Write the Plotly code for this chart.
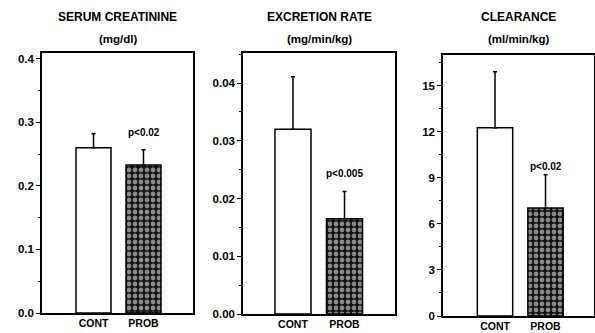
import plotly.graph_objects as go

groups = ["CONT", "PROB"]
creat_vals = [0.26, 0.233]
creat_err = [0.022, 0.024]
excr_vals = [0.032, 0.0165]
excr_err = [0.0091, 0.0047]
clear_vals = [12.26, 7.04]
clear_err = [3.65, 2.16]
p_labels = ["p<0.02", "p<0.005", "p<0.02"]
titles = ["SERUM CREATININE", "EXCRETION RATE", "CLEARANCE"]
units = ["(mg/dl)", "(mg/min/kg)", "(ml/min/kg)"]
creat_ticks = [0.0, 0.1, 0.2, 0.3, 0.4]
excr_ticks = [0.00, 0.01, 0.02, 0.03, 0.04]
clear_ticks = [0, 3, 6, 9, 12, 15]

W, H = 595, 333
FONT = "Liberation Sans"

panels = [
    dict(vals=creat_vals, err=creat_err, ticks=creat_ticks, fmt=".1f", yr=[0, 0.409],
         px=(42, 193), py=(313, 53), xr=[-1.03, 1.99], py_lab=0.2835, dtick_minor=0.05),
    dict(vals=excr_vals, err=excr_err, ticks=excr_ticks, fmt=".2f", yr=[0, 0.0452],
         px=(243, 395), py=(314, 53), xr=[-0.97, 1.98], py_lab=0.0244, dtick_minor=0.005),
    dict(vals=clear_vals, err=clear_err, ticks=clear_ticks, fmt="d", yr=[0, 17.0],
         px=(443, 594), py=(316, 55), xr=[-1.03, 1.96], py_lab=9.72, dtick_minor=1.5),
]

fig = go.Figure()
annotations = []
for i, p in enumerate(panels):
    n = "" if i == 0 else str(i + 1)
    xa, ya = "x" + n, "y" + n
    fig.add_trace(go.Bar(
        x=[0, 1], y=p["vals"], width=0.7,
        marker=dict(color=["white", "#111111"],
                    line=dict(color="black", width=1.5),
                    pattern=dict(shape=["", "."], fgcolor="white",
                                 size=6, solidity=0.5, fillmode="overlay")),
        error_y=dict(type="data", array=p["err"], arrayminus=[0, 0], symmetric=False,
                     color="black", thickness=1.5, width=2),
        xaxis=xa, yaxis=ya, showlegend=False,
    ))
    x0, x1 = p["px"][0] / W, p["px"][1] / W
    y0, y1 = (H - p["py"][0]) / H, (H - p["py"][1]) / H
    fig.layout["xaxis" + n] = dict(
        domain=[x0, x1], range=p["xr"], anchor=ya, tickmode="array",
        tickvals=[0, 1], ticktext=groups, ticks="", showline=True, mirror=True,
        linecolor="black", linewidth=1.5, showgrid=False, zeroline=False,
        tickfont=dict(family=FONT, size=10.5, color="black", weight="bold"),
    )
    fig.layout["yaxis" + n] = dict(
        domain=[y0, y1], range=p["yr"], anchor=xa, tickmode="array",
        tickvals=p["ticks"], tickformat=p["fmt"], ticks="outside", ticklen=4,
        tickwidth=1, tickcolor="black", showline=True, mirror=True,
        linecolor="black", linewidth=1.5, showgrid=False, zeroline=False,
        minor=dict(dtick=p["dtick_minor"], ticks="outside", ticklen=2, tickcolor="black"),
        tickfont=dict(family=FONT, size=11.5, color="black", weight="bold"),
    )
    cx = (p["px"][0] + p["px"][1]) / 2 / W
    annotations.append(dict(text=titles[i], x=cx, y=(H - 17) / H, xref="paper", yref="paper",
                            xanchor="center", yanchor="middle", showarrow=False,
                            font=dict(family=FONT, size=12, color="black", weight="bold")))
    annotations.append(dict(text=units[i], x=cx, y=(H - 39) / H, xref="paper", yref="paper",
                            xanchor="center", yanchor="middle", showarrow=False,
                            font=dict(family=FONT, size=11.5, color="black", weight="bold")))
    annotations.append(dict(text=p_labels[i], x=1, y=p["py_lab"], xref=xa, yref=ya,
                            xanchor="center", yanchor="middle", showarrow=False,
                            font=dict(family=FONT, size=10, color="black", weight="bold")))

fig.update_layout(width=W, height=H, margin=dict(l=0, r=0, t=0, b=0, autoexpand=False),
                  paper_bgcolor="white", plot_bgcolor="white", annotations=annotations,
                  bargap=0.3)
fig.write_html("out.html", config={"displayModeBar": False},
               post_script="document.body.style.margin='0';document.body.style.overflow='hidden';")
